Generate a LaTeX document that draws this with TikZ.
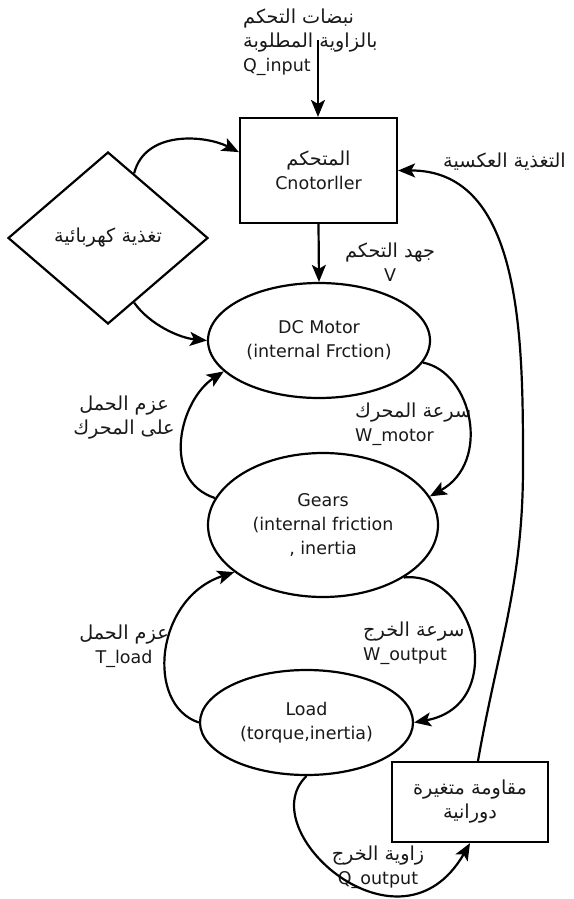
\documentclass[tikz,border=0pt]{standalone}
\usepackage{fontspec}
\setmainfont{DejaVu Sans}
\newfontfamily\arabicfont[Script=Arabic,Scale=1.1]{DejaVu Sans}
\TeXXeTstate=1
\newcommand{\artext}[1]{{\arabicfont\beginR #1\endR}}
\usetikzlibrary{arrows.meta,shapes.geometric}

\begin{document}
\begin{tikzpicture}[
  x=1pt, y=-1pt,
  every node/.style={font=\fontsize{17.5}{24}\selectfont, text=black!90},
  blockbox/.style={rectangle, draw=black, line width=2.2pt, inner sep=0pt, align=center},
  supply/.style={diamond, draw=black, line width=2.2pt, inner sep=0pt, minimum width=200pt, minimum height=172pt},
  part/.style={ellipse, draw=black, line width=2.2pt, inner sep=0pt, align=center},
  lbl/.style={inner sep=0pt},
  arr/.style={-{Stealth[length=17pt, width=14pt, inset=4pt]}, line width=2.2pt, draw=black}
]
\useasboundingbox (0,0) rectangle (573,899);

% blocks
\node[blockbox, minimum width=157pt, minimum height=105pt] (ctrl) at (318.5,170.5) {\artext{المتحكم}\\Cnotorller};
\node[supply] (sup) at (108,238) {\artext{تغذية كهربائية}};
\node[part, minimum width=222pt, minimum height=115pt] (motor) at (319,340.5) {DC Motor\\(internal Frction)};
\node[part, minimum width=230pt, minimum height=144pt] (gears) at (323,525) {Gears\\(internal friction\\, inertia};
\node[part, minimum width=213pt, minimum height=105pt] (load) at (306.5,722.5) {Load\\(torque,inertia)};
\node[blockbox, minimum width=156pt, minimum height=80pt] (res) at (470,802) {\artext{مقاومة متغيرة}\\\artext{دورانية}};

% labels
\node[lbl, anchor=west, align=left] (qin) at (243,42) {\artext{نبضات التحكم}\\\artext{بالزاوية المطلوبة}\\Q\_input};
\node[lbl, anchor=west] (fblbl) at (443,162) {\artext{التغذية العكسية}};
\node[lbl, align=center] (vlbl) at (390,262) {\artext{جهد التحكم}\\V};
\node[lbl, align=center] (tqm) at (124,418) {\artext{عزم الحمل}\\\artext{على المحرك}};
\node[lbl, anchor=west, align=left] (wm) at (355,424) {\artext{سرعة المحرك}\\W\_motor};
\node[lbl, align=center] (tql) at (124,646) {\artext{عزم الحمل}\\T\_load};
\node[lbl, anchor=west, align=left] (wo) at (363,643) {\artext{سرعة الخرج}\\W\_output};
\node[lbl, align=center] (qout) at (378,867) {\artext{زاوية الخرج}\\Q\_output};

\coordinate (qtop) at (318,40);
\coordinate (fbmid) at (523,467);

% connectors
\draw[arr] (qtop) -- (ctrl.north -| qtop);
\draw[arr] (ctrl.south) -- (motor.north);
\draw[arr] (sup.68) .. controls (145,130) and (205,135) .. (ctrl.167);
\draw[arr] (sup.-68) .. controls (150,325) and (180,338) .. (motor.west);
\draw[arr] (gears.166) .. controls (160,480) and (180,400) .. (motor.198);
\draw[arr] (motor.-12) .. controls (472,372) and (492,462) .. (gears.15);
\draw[arr] (load.west) .. controls (145,705) and (155,598) .. (gears.208);
\draw[arr] (gears.-33) .. controls (475,570) and (510,705) .. (load.east);
\draw[arr] (load.south) .. controls (250,830) and (400,965) .. (res.south);
\draw[arr] (res.79) .. controls (498,647) and (523,584) .. (fbmid)
  .. controls (523,341) and (523,170) .. (ctrl.east);
\end{tikzpicture}
\end{document}
